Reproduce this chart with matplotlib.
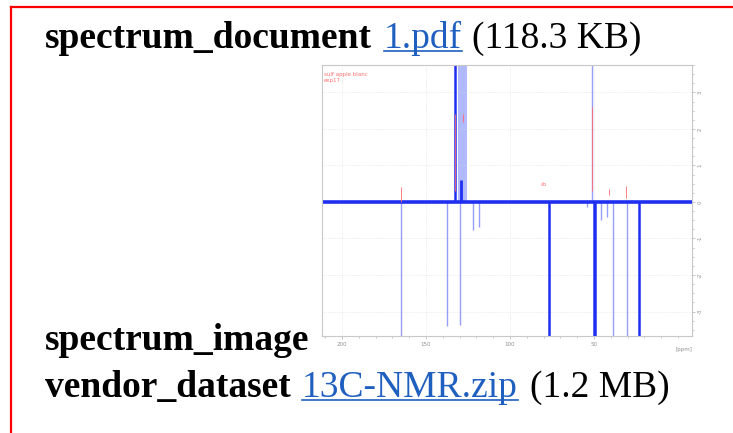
#!/usr/bin/env python3
"""
Document snippet: three attachment rows with an embedded 13C DEPT-style spectrum.
"""
import matplotlib
matplotlib.use('Agg')
import matplotlib.pyplot as plt
from matplotlib.ticker import MultipleLocator

W, H = 733, 433

# text rows: (label, link, size note)
row_labels = ['spectrum_document', 'spectrum_image', 'vendor_dataset']
row_links = ['1.pdf', None, '13C-NMR.zip']
row_sizes = ['(118.3 KB)', None, '(1.2 MB)']
row_baselines = [48, 350, 397]
link_x = [384, None, 302]
size_x = [472, None, 530]

# spectrum peaks (ppm, intensity)
peak_ppm = [132.7, 51.2, 164.9, 137.5, 129.8, 122.0, 118.5, 76.8, 50.0, 49.5, 46.0, 42.0, 38.7, 30.4, 23.2, 54.0]
peak_int = [5.0, 5.0, -5.0, -3.4, -3.37, -0.77, -0.68, -5.0, -5.0, -5.0, -0.5, -0.4, -5.0, -5.0, -5.0, -0.15]
peak_strong = [True, False, False, False, False, False, False, True, True, True, False, False, False, False, True, False]
cluster_ppm = (131.0, 125.6)
bump_ppm, bump_int = 129.0, 0.6

# red peak-pick marks (ppm, y0, y1)
mark_ppm = [164.9, 132.9, 128.0, 51.0, 41.0, 31.0]
mark_y0 = [0.0, 0.3, 2.2, 0.3, 0.2, 0.1]
mark_y1 = [0.4, 2.4, 2.4, 2.6, 0.35, 0.45]

x_ticks = [200, 150, 100, 50]
y_ticks = [-3, -2, -1, 0, 1, 2, 3]

plt.rcParams['font.family'] = ['Liberation Serif', 'DejaVu Serif']

fig = plt.figure(figsize=(W / 100, H / 100), dpi=100)
fig.patch.set_facecolor('white')


def fx(px):
    return px / W


def fy(py):
    return 1 - py / H


# red border (top and left only visible)
fig.add_artist(plt.Line2D([fx(11), fx(W + 5)], [fy(7), fy(7)], color='#ff0000', lw=1.6))
fig.add_artist(plt.Line2D([fx(11), fx(11)], [fy(7), fy(H + 5)], color='#ff0000', lw=1.6))

FS = 27
LINK = '#1f5fbf'
fig.canvas.draw()
rend = fig.canvas.get_renderer()
for lab, link, size, base, lx, sx in zip(row_labels, row_links, row_sizes, row_baselines, link_x, size_x):
    fig.text(fx(45), fy(base), lab, fontsize=FS, fontweight='bold', va='baseline', ha='left')
    if link:
        t = fig.text(fx(lx), fy(base), link, fontsize=FS, color=LINK, va='baseline', ha='left')
        bb = t.get_window_extent(renderer=rend)
        fig.add_artist(plt.Line2D([bb.x0 / W, bb.x1 / W], [fy(base + 3), fy(base + 3)], color=LINK, lw=1.2))
    if size:
        fig.text(fx(sx), fy(base), size, fontsize=FS, va='baseline', ha='left')

# embedded spectrum
ax = fig.add_axes([fx(322), fy(336), fx(692) - fx(322), fy(65) - fy(336)])
ax.set_xlim(211.9, -8.3)
ax.set_ylim(-3.67, 3.75)

BLUE = '#1f2ff0'
ax.axvspan(cluster_ppm[0], cluster_ppm[1], ymin=0.5, ymax=1, color='#8f9cf7', alpha=0.7, lw=0)
ax.vlines([bump_ppm], 0, bump_int, color=BLUE, lw=2)
for p, h, strong in zip(peak_ppm, peak_int, peak_strong):
    if strong:
        ax.vlines([p], 0, h, color=BLUE, lw=1.8)
    else:
        ax.vlines([p], 0, h, color='#7d86f5', lw=1.0, alpha=0.8)
ax.axhline(0, color=BLUE, lw=2.6)
ax.vlines(mark_ppm, mark_y0, mark_y1, color='#ff6a6a', lw=0.6)

ax.text(0.005, 0.975, 'sulf apple blanc\nexp17', transform=ax.transAxes, fontsize=4,
        color='#ff7070', va='top', ha='left', family='DejaVu Sans', linespacing=1.3)
ax.text(82, 0.45, 'ab', fontsize=3.5, color='#ff7070', family='DejaVu Sans')

ax.set_xticks(x_ticks)
ax.set_xticklabels([str(v) for v in x_ticks])
ax.xaxis.set_minor_locator(MultipleLocator(10))
ax.set_yticks(y_ticks)
ax.set_yticklabels([str(v) for v in y_ticks], rotation=90, va='center')
ax.yaxis.set_minor_locator(MultipleLocator(0.25))
ax.yaxis.tick_right()
ax.tick_params(axis='both', which='both', colors='#b0b0b0', labelcolor='#909090',
               labelsize=4, length=2, width=0.5, pad=2)
ax.tick_params(which='minor', length=1.2)
for lbl in ax.get_xticklabels() + ax.get_yticklabels():
    lbl.set_family('DejaVu Sans')
ax.text(1.0, -0.04, '[ppm]', transform=ax.transAxes, fontsize=4, color='#909090',
        ha='right', va='top', family='DejaVu Sans')
ax.grid(True, which='major', color='#dcdcdc', lw=0.5, ls=':')
for s in ax.spines.values():
    s.set_color('#c8c8c8')
    s.set_linewidth(0.8)

fig.savefig('out.png', dpi=100, facecolor='white')
